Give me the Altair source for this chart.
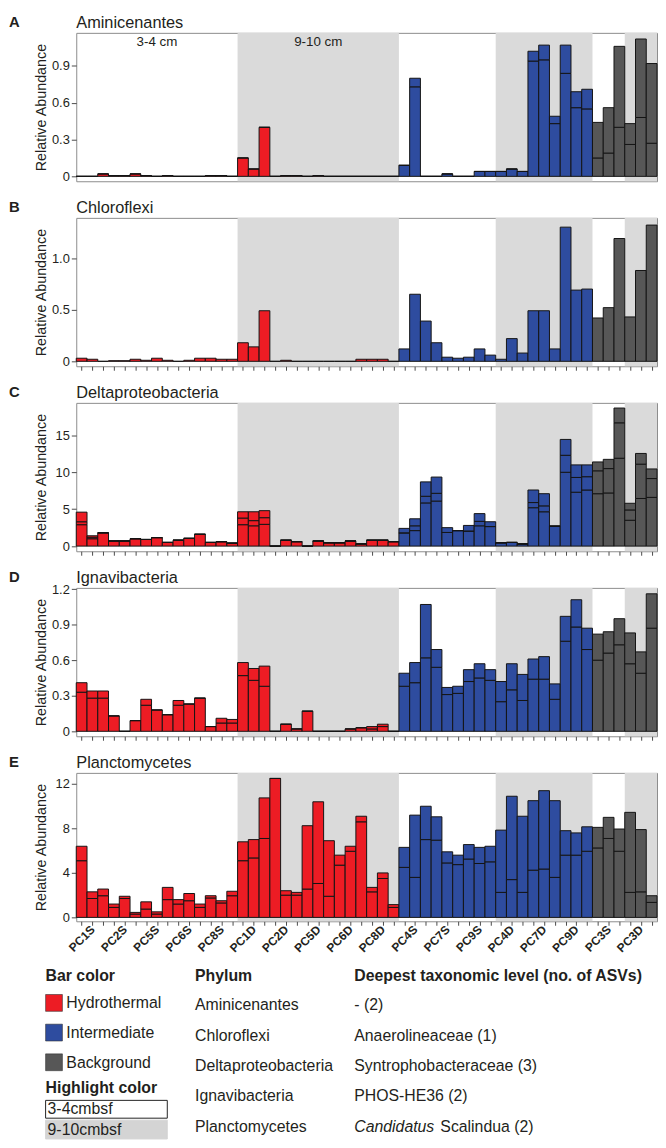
import json
import altair as alt
import pandas as pd

FONT = "Liberation Sans"
TXT = "#231F20"
SHADE = "#DADADA"

# ---------------- categories ----------------
SITES = ["PC1S", "PC2S", "PC5S", "PC6S", "PC8S", "PC1D", "PC2D", "PC5D", "PC6D", "PC8D",
         "PC4S", "PC7S", "PC9S", "PC4D", "PC7D", "PC9D", "PC3S", "PC3D"]
SITE_TYPE = ["Hydrothermal", "Hydrothermal", "Hydrothermal", "Hydrothermal", "Hydrothermal",
             "Hydrothermal", "Hydrothermal", "Hydrothermal", "Hydrothermal", "Hydrothermal",
             "Intermediate", "Intermediate", "Intermediate", "Intermediate", "Intermediate",
             "Intermediate", "Background", "Background"]
REPLICATES = 3
TYPE_NAMES = ["Hydrothermal", "Intermediate", "Background"]
TYPE_COLORS = ["#ED1C24", "#2E4C9F", "#575757"]
DEPTH_LABELS = ["3-4 cm", "9-10 cm"]

# ---------------- values (cumulative stack boundaries per bar) ----------------
# Aminicenantes (2 ASVs)
AMIN_SPLIT = [0, 0, 0.02, 0.006, 0.006, 0.02, 0.006, 0, 0.006, 0, 0, 0, 0.006, 0.006, 0,
              0.15, 0.06, 0.40, 0, 0.006, 0.006, 0, 0.006, 0, 0, 0, 0, 0, 0, 0,
              0.09, 0.73, 0, 0, 0.02, 0, 0, 0.04, 0.04,
              0.04, 0.06, 0.04, 0.94, 0.95, 0.43, 0.84, 0.56, 0.55,
              0.15, 0.19, 0.40, 0.26, 0.48, 0.27]
AMIN_TOTAL = [0, 0, 0.02, 0.006, 0.006, 0.02, 0.006, 0, 0.006, 0, 0, 0, 0.006, 0.006, 0,
              0.15, 0.06, 0.40, 0, 0.006, 0.006, 0, 0.006, 0, 0, 0, 0, 0, 0, 0,
              0.09, 0.80, 0, 0, 0.02, 0, 0, 0.04, 0.04,
              0.04, 0.06, 0.04, 1.02, 1.07, 0.49, 1.07, 0.69, 0.71,
              0.44, 0.56, 1.06, 0.43, 1.12, 0.92]
# Chloroflexi (1 ASV)
CHLO_TOTAL = [0.03, 0.02, 0, 0.006, 0.006, 0.02, 0.01, 0.03, 0.01, 0, 0.01, 0.03, 0.03, 0.02, 0.02,
              0.18, 0.14, 0.49, 0, 0.01, 0, 0, 0, 0, 0, 0, 0.02, 0.02, 0.02, 0,
              0.12, 0.65, 0.39, 0.18, 0.04, 0.03, 0.04, 0.12, 0.06,
              0.02, 0.22, 0.08, 0.49, 0.49, 0.12, 1.30, 0.69, 0.70,
              0.42, 0.52, 1.19, 0.43, 0.88, 1.32]
# Deltaproteobacteria (3 ASVs)
DELTA_B1 = [2.9, 1.0, 1.8, 0.7, 0.7, 1.0, 0.9, 1.15, 0.5, 0.8, 1.05, 1.6, 0.5, 0.6, 0.4,
            2.9, 2.75, 2.95, 0, 0.8, 0.6, 0, 0.7, 0.45, 0.45, 0.7, 0.3, 0.8, 0.8, 0.6,
            1.8, 2.1, 5.85, 6.1, 1.85, 2.1, 2.05, 2.75, 2.65,
            0.45, 0.5, 0.3, 5.2, 4.65, 2.7, 10.0, 7.3, 7.6,
            7.1, 7.2, 11.9, 3.5, 6.45, 6.6]
DELTA_B2 = [3.3, 1.2, 1.8, 0.7, 0.7, 1.0, 0.9, 1.15, 0.5, 0.8, 1.05, 1.6, 0.5, 0.6, 0.4,
            3.8, 3.45, 3.85, 0, 0.8, 0.6, 0, 0.7, 0.45, 0.45, 0.7, 0.3, 0.8, 0.8, 0.6,
            1.8, 2.75, 6.75, 7.15, 1.85, 2.1, 2.05, 3.35, 2.65,
            0.45, 0.5, 0.3, 5.9, 5.45, 2.7, 12.3, 9.3, 9.4,
            10.2, 10.5, 16.7, 4.9, 11.1, 9.15]
DELTA_TOTAL = [4.6, 1.4, 1.8, 0.7, 0.7, 1.0, 0.9, 1.15, 0.5, 0.8, 1.05, 1.6, 0.5, 0.6, 0.4,
               4.65, 4.65, 4.8, 0, 0.8, 0.6, 0, 0.7, 0.45, 0.45, 0.7, 0.3, 0.8, 0.8, 0.6,
               2.4, 3.7, 8.7, 9.35, 2.5, 2.1, 2.8, 4.4, 3.3,
               0.45, 0.5, 0.3, 7.6, 7.1, 2.7, 14.45, 11.0, 11.0,
               11.4, 11.75, 18.7, 5.8, 12.55, 10.45]
# Ignavibacteria (2 ASVs)
IGNA_SPLIT = [0.33, 0.28, 0.28, 0.13, 0, 0.09, 0.22, 0.18, 0.14, 0.22, 0.23, 0.28, 0.04, 0.07, 0.07,
              0.47, 0.43, 0.38, 0, 0.06, 0.02, 0.17, 0, 0, 0, 0.02, 0.03, 0.02, 0.04, 0,
              0.38, 0.41, 0.62, 0.54, 0.31, 0.32, 0.42, 0.45, 0.43,
              0.25, 0.35, 0.26, 0.44, 0.44, 0.27, 0.76, 0.88, 0.69,
              0.60, 0.66, 0.73, 0.57, 0.49, 0.87]
IGNA_TOTAL = [0.41, 0.34, 0.34, 0.13, 0, 0.09, 0.27, 0.18, 0.14, 0.26, 0.23, 0.28, 0.04, 0.11, 0.10,
              0.58, 0.53, 0.55, 0, 0.06, 0.02, 0.17, 0, 0, 0, 0.02, 0.03, 0.04, 0.06, 0,
              0.49, 0.58, 1.07, 0.69, 0.37, 0.38, 0.52, 0.57, 0.52,
              0.42, 0.57, 0.48, 0.61, 0.63, 0.40, 0.97, 1.11, 0.87,
              0.82, 0.84, 0.95, 0.83, 0.67, 1.16]
# Planctomycetes (2 ASVs)
PLAN_SPLIT = [5.1, 1.7, 1.95, 0.9, 1.7, 0.3, 0.75, 0.3, 1.6, 1.2, 1.5, 0.9, 1.75, 1.3, 1.95,
              5.1, 5.35, 7.1, 12.5, 2.0, 2.0, 2.55, 3.05, 1.9, 4.7, 5.95, 8.6, 2.3, 3.5, 0.9,
              4.5, 3.6, 7.0, 6.95, 4.9, 4.75, 5.25, 4.85, 5.0,
              2.25, 3.4, 2.25, 4.25, 4.35, 3.6, 5.6, 5.6, 5.95,
              6.25, 7.1, 5.95, 2.25, 2.3, 1.35]
PLAN_TOTAL = [6.4, 2.3, 2.55, 1.2, 1.9, 0.45, 1.4, 0.5, 2.7, 1.6, 2.15, 1.2, 1.95, 1.5, 2.35,
              6.8, 7.0, 10.75, 12.5, 2.4, 2.25, 8.25, 10.4, 6.9, 5.6, 6.4, 9.1, 2.7, 4.0, 1.15,
              6.3, 9.2, 10.0, 9.05, 5.9, 5.6, 6.55, 6.3, 6.4,
              7.85, 10.9, 9.1, 10.5, 11.4, 10.5, 7.8, 7.6, 8.15,
              8.1, 9.0, 7.95, 9.45, 7.9, 1.95]

PHYLA = ["Aminicenantes", "Chloroflexi", "Deltaproteobacteria", "Ignavibacteria", "Planctomycetes"]
TAXA = ["- (2)", "Anaerolineaceae (1)", "Syntrophobacteraceae (3)", "PHOS-HE36 (2)", "Scalindua (2)"]
TAXA_ITALIC = ["", "", "", "", "Candidatus"]
HIGHLIGHT_NAMES = ["3-4cmbsf", "9-10cmbsf"]
HIGHLIGHT_FILLS = ["#FFFFFF", "#D4D4D4"]

# ---------------- helpers ----------------
N = len(SITES) * REPLICATES
W, H = 587, 150

# merge consecutive 9-10 cm sites into single shaded blocks
shade_rows = []
for k, s in enumerate(SITES):
    if s.endswith("D"):
        a, b = k * REPLICATES, (k + 1) * REPLICATES
        if shade_rows and shade_rows[-1]["x1"] == a:
            shade_rows[-1]["x1"] = b
        else:
            shade_rows.append({"x0": a, "x1": b})
shade_df = pd.DataFrame(shade_rows)

tick_labels = [SITES[i // REPLICATES] if i % REPLICATES == 1 else "" for i in range(N)]
label_expr = json.dumps(tick_labels) + "[floor(datum.value)]"
xscale = alt.Scale(domain=[0, N], nice=False, zero=False, padding=0)


def bar_frame(boundaries):
    rows = []
    for i in range(N):
        lo = 0.0
        for b in boundaries:
            hi = b[i]
            rows.append({"x0": i, "x1": i + 1, "lo": lo, "hi": hi,
                         "type": SITE_TYPE[i // REPLICATES]})
            lo = hi
    return pd.DataFrame(rows)


def x_axis(show_labels):
    if show_labels:
        return alt.Axis(values=[i + 0.5 for i in range(N)], title=None, labelExpr=label_expr,
                        labelAngle=315, labelAlign="right", labelBaseline="middle",
                        labelFontWeight="bold", labelFontSize=12, labelPadding=2,
                        labelOverlap=False, labelFlush=False, labelColor=TXT,
                        tickSize=4, domain=False, grid=False)
    return alt.Axis(values=[i + 0.5 for i in range(N)], title=None, labels=False,
                    tickSize=4, domain=False, grid=False)


def panel(letter, title, boundaries, ymin, ymax, yticks, yexpr, show_labels=False, extra=None):
    df = bar_frame(boundaries)
    xenc = alt.X("x0:Q", scale=xscale, axis=x_axis(show_labels))
    shade = alt.Chart(shade_df).mark_rect(color=SHADE).encode(
        x=xenc, x2="x1:Q", y=alt.value(0), y2=alt.value(H))
    bars = alt.Chart(df).mark_bar(stroke="#141414", strokeWidth=1).encode(
        x=xenc, x2="x1:Q",
        y=alt.Y("lo:Q", scale=alt.Scale(domain=[ymin, ymax], nice=False, zero=False),
                axis=alt.Axis(values=yticks, labelExpr=yexpr, title="Relative Abundance",
                              titleX=-35, titleY=H / 2, titleAlign="center",
                              titleBaseline="middle", titleFontSize=14.5,
                              titleFontWeight="normal", titleColor=TXT,
                              labelFontSize=13, labelColor=TXT, labelPadding=2,
                              tickSize=5, domain=False, grid=False)),
        y2="hi:Q",
        color=alt.Color("type:N", scale=alt.Scale(domain=TYPE_NAMES, range=TYPE_COLORS),
                        legend=None))
    ttl = alt.Chart(pd.DataFrame({"t": [title]})).mark_text(
        align="left", baseline="top", fontSize=16.5, color=TXT).encode(
        text="t:N", x=alt.value(0), y=alt.value(-18))
    let = alt.Chart(pd.DataFrame({"t": [letter]})).mark_text(
        align="left", baseline="top", fontSize=15, fontWeight="bold", color=TXT).encode(
        text="t:N", x=alt.value(-68), y=alt.value(-18))
    layers = [shade, bars, ttl, let] + (extra or [])
    return alt.layer(*layers).properties(width=W, height=H)


# depth labels in panel A (centred on first white and first grey block)
first_d = shade_rows[0]
depth_df = pd.DataFrame({"x": [first_d["x0"] / 2, (first_d["x0"] + first_d["x1"]) / 2],
                         "t": DEPTH_LABELS})
depth_txt = alt.Chart(depth_df).mark_text(fontSize=13.5, color=TXT, baseline="middle").encode(
    x=alt.X("x:Q", scale=xscale, axis=None), y=alt.value(9), text="t:N")

frac_expr = "datum.value == 0 ? '0' : format(datum.value, '.1f')"
int_expr = "format(datum.value, 'd')"

pA = panel("A", "Aminicenantes", [AMIN_SPLIT, AMIN_TOTAL], -0.04, 1.17,
           [0, 0.3, 0.6, 0.9], frac_expr, extra=[depth_txt])
pB = panel("B", "Chloroflexi", [CHLO_TOTAL], -0.048, 1.39, [0, 0.5, 1.0], frac_expr)
pC = panel("C", "Deltaproteobacteria", [DELTA_B1, DELTA_B2, DELTA_TOTAL], -0.7, 19.4,
           [0, 5, 10, 15], int_expr)
pD = panel("D", "Ignavibacteria", [IGNA_SPLIT, IGNA_TOTAL], -0.042, 1.21,
           [0, 0.3, 0.6, 0.9, 1.2], frac_expr)
pE = panel("E", "Planctomycetes", [PLAN_SPLIT, PLAN_TOTAL], -0.35, 13.0,
           [0, 4, 8, 12], int_expr, show_labels=True)

# ---------------- legend / table ----------------
LEG_H = 183
OX = 76       # page x of plot origin
OY = 961      # page y of legend area top
ROW0, ROWSTEP = 1009, 30.7
COL_SW, COL_TXT, COL_PHY, COL_TAX = 45, 66, 196, 357


def px(v):
    return v - OX


def py(v):
    return v - OY


hdr = pd.DataFrame({"x": [px(COL_SW), px(COL_PHY), px(COL_TAX), px(COL_SW)],
                    "y": [py(979), py(979), py(979), py(1093)],
                    "t": ["Bar color", "Phylum", "Deepest taxonomic level (no. of ASVs)",
                          "Highlight color"]})
sw = pd.DataFrame({"x": [px(COL_SW)] * 3, "x2": [px(COL_SW + 17)] * 3,
                   "y": [py(998 + 30 * k) for k in range(3)],
                   "y2": [py(1015 + 30 * k) for k in range(3)],
                   "type": TYPE_NAMES})
swt = pd.DataFrame({"x": [px(COL_TXT)] * 3, "y": [py(1007 + 30 * k) for k in range(3)],
                    "t": TYPE_NAMES})
hl = pd.DataFrame({"x": [px(COL_SW)] * 2, "x2": [px(168)] * 2,
                   "y": [py(1105), py(1125)], "y2": [py(1123), py(1144)],
                   "fill": HIGHLIGHT_FILLS, "stroke": ["#222222", "#D4D4D4"]})
hlt = pd.DataFrame({"x": [px(47)] * 2, "y": [py(1114), py(1135)], "t": HIGHLIGHT_NAMES})
phy = pd.DataFrame({"x": [px(COL_PHY)] * 5, "y": [py(ROW0 + ROWSTEP * k) for k in range(5)],
                    "t": PHYLA})
ital_w = [0 if s == "" else 87 for s in TAXA_ITALIC]
tax = pd.DataFrame({"x": [px(COL_TAX) + w for w in ital_w],
                    "y": [py(ROW0 + ROWSTEP * k) for k in range(5)], "t": TAXA})
tax_i = pd.DataFrame({"x": [px(COL_TAX)] * 5, "y": [py(ROW0 + ROWSTEP * k) for k in range(5)],
                      "t": TAXA_ITALIC})

XI = alt.X("x:Q", scale=None, axis=None)
YI = alt.Y("y:Q", scale=None, axis=None)

leg_layers = [
    alt.Chart(hdr).mark_text(align="left", baseline="middle", fontSize=16, fontWeight="bold",
                             color=TXT).encode(x=XI, y=YI, text="t:N"),
    alt.Chart(sw).mark_rect(stroke="#333333", strokeWidth=0.6).encode(
        x=XI, x2="x2:Q", y=YI, y2="y2:Q",
        color=alt.Color("type:N", scale=alt.Scale(domain=TYPE_NAMES, range=TYPE_COLORS),
                        legend=None)),
    alt.Chart(swt).mark_text(align="left", baseline="middle", fontSize=16, color=TXT).encode(
        x=XI, y=YI, text="t:N"),
    alt.Chart(hl).mark_rect(strokeWidth=1).encode(
        x=XI, x2="x2:Q", y=YI, y2="y2:Q",
        fill=alt.Fill("fill:N", scale=None), stroke=alt.Stroke("stroke:N", scale=None)),
    alt.Chart(hlt).mark_text(align="left", baseline="middle", fontSize=16, color=TXT).encode(
        x=XI, y=YI, text="t:N"),
    alt.Chart(phy).mark_text(align="left", baseline="middle", fontSize=16, color=TXT).encode(
        x=XI, y=YI, text="t:N"),
    alt.Chart(tax).mark_text(align="left", baseline="middle", fontSize=16, color=TXT).encode(
        x=XI, y=YI, text="t:N"),
    alt.Chart(tax_i).mark_text(align="left", baseline="middle", fontSize=16, fontStyle="italic",
                               color=TXT).encode(x=XI, y=YI, text="t:N"),
]
legend = alt.layer(*leg_layers).properties(
    width=W, height=LEG_H, view=alt.ViewBackground(stroke="transparent"))

chart = alt.vconcat(pA, pB, pC, pD, pE, legend, spacing=37, bounds="flush").properties(
    padding=0
).configure(font=FONT).configure_view(stroke="#8C8C8C", strokeWidth=1).configure_axis(
    tickColor="#4A4A4A", tickWidth=1, labelFont=FONT, titleFont=FONT)

chart.save("out.html", embed_options={"renderer": "svg", "actions": False})
